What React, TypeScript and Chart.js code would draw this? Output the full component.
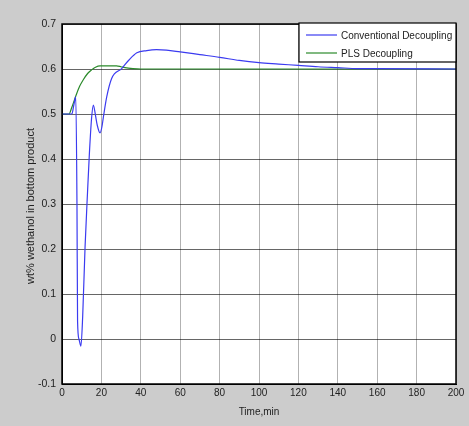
import React, { useEffect, useRef } from "react";
import { Chart, registerables } from "chart.js";

Chart.register(...registerables);

const convTimes = [0, 5, 6, 7, 7.6, 7.9, 8.6, 9.6, 10.5, 11.7, 13, 13.9, 15, 15.9, 17, 17.9, 19.3, 20.2, 21, 22.7, 25.2, 30.3, 34, 38, 43, 48, 53, 60, 70, 80, 90, 100, 110, 120, 130, 140, 150, 160, 200];
const convValues = [0.5, 0.5, 0.52, 0.538, 0.3, 0.04, 0.0, -0.016, 0.05, 0.204, 0.33, 0.412, 0.49, 0.52, 0.497, 0.475, 0.458, 0.47, 0.493, 0.538, 0.579, 0.601, 0.62, 0.636, 0.641, 0.643, 0.642, 0.638, 0.632, 0.626, 0.619, 0.614, 0.611, 0.608, 0.605, 0.603, 0.601, 0.601, 0.6];

const plsTimes = [0, 3.5, 5, 7.1, 9, 10.8, 13, 15, 17, 19.3, 24, 27.7, 30, 32, 36, 40, 200];
const plsValues = [0.5, 0.5, 0.515, 0.541, 0.562, 0.576, 0.59, 0.598, 0.604, 0.607, 0.607, 0.607, 0.605, 0.603, 0.601, 0.6, 0.6];

const seriesNames = ["Conventional Decoupling", "PLS Decoupling"];
const xTitle = "Time,min";
const yTitle = "wt% wethanol in bottom product";

const FONT = "'Liberation Sans', Arial, sans-serif";
const BLUE = "#3b3bf0";
const GREEN = "#2a8a2a";

export default function App() {
  const ref = useRef<HTMLCanvasElement | null>(null);

  useEffect(() => {
    document.body.style.margin = "0";
    const canvas = ref.current!;
    const decor = {
      id: "decor",
      beforeDraw(chart: any) {
        const { ctx, chartArea } = chart;
        ctx.save();
        ctx.fillStyle = "#cccccc";
        ctx.fillRect(0, 0, chart.width, chart.height);
        ctx.fillStyle = "#ffffff";
        ctx.fillRect(chartArea.left, chartArea.top, chartArea.right - chartArea.left, chartArea.bottom - chartArea.top);
        ctx.restore();
      },
      afterDraw(chart: any) {
        const { ctx, chartArea } = chart;
        const { left, right, top, bottom } = chartArea;
        ctx.save();
        ctx.strokeStyle = "#000";
        ctx.lineWidth = 1.5;
        ctx.strokeRect(left, top, right - left, bottom - top);
        // titles
        ctx.fillStyle = "#222";
        ctx.font = `10px ${FONT}`;
        ctx.textAlign = "center";
        ctx.textBaseline = "middle";
        ctx.fillText(xTitle, (left + right) / 2, 412);
        ctx.save();
        ctx.translate(31, (top + bottom) / 2 + 2);
        ctx.rotate(-Math.PI / 2);
        ctx.font = `11px ${FONT}`;
        ctx.fillText(yTitle, 0, 0);
        ctx.restore();
        // legend
        const lw = 157, lh = 39;
        const lx = right - lw, ly = top - 1;
        ctx.fillStyle = "#fff";
        ctx.fillRect(lx, ly, lw, lh);
        ctx.strokeStyle = "#000";
        ctx.lineWidth = 1.2;
        ctx.strokeRect(lx, ly, lw, lh);
        const colors = [BLUE, GREEN];
        ctx.font = `10px ${FONT}`;
        ctx.textAlign = "left";
        seriesNames.forEach((n, i) => {
          const yy = ly + 12 + i * 18;
          ctx.strokeStyle = colors[i];
          ctx.lineWidth = 1.2;
          ctx.beginPath();
          ctx.moveTo(lx + 7, yy);
          ctx.lineTo(lx + 38, yy);
          ctx.stroke();
          ctx.fillStyle = "#222";
          ctx.fillText(n, lx + 42, yy + 1);
        });
        ctx.restore();
      },
    };

    const chart = new Chart(canvas, {
      type: "line",
      data: {
        datasets: [
          {
            label: seriesNames[0],
            data: convTimes.map((t, i) => ({ x: t, y: convValues[i] })),
            borderColor: BLUE,
            borderWidth: 1.2,
            pointRadius: 0,
            cubicInterpolationMode: "monotone",
            fill: false,
          },
          {
            label: seriesNames[1],
            data: plsTimes.map((t, i) => ({ x: t, y: plsValues[i] })),
            borderColor: GREEN,
            borderWidth: 1.2,
            pointRadius: 0,
            cubicInterpolationMode: "monotone",
            fill: false,
          },
        ],
      },
      options: {
        responsive: false,
        animation: false,
        layout: { padding: { top: 24, right: 13, left: 0, bottom: 0 } },
        plugins: { legend: { display: false }, tooltip: { enabled: false } },
        scales: {
          x: {
            type: "linear",
            min: 0,
            max: 200,
            ticks: {
              stepSize: 20,
              color: "#222",
              font: { size: 10, family: FONT },
              padding: 3,
              maxRotation: 0,
            },
            grid: { color: "rgba(0,0,0,0.3)", drawTicks: false },
            border: { display: true, color: "#000" },
            afterFit: (s: any) => { s.height = 42; },
          },
          y: {
            type: "linear",
            min: -0.1,
            max: 0.7,
            ticks: {
              stepSize: 0.1,
              color: "#222",
              font: { size: 10.5, family: FONT },
              padding: 6,
              callback: (v: any) => String(Number(Number(v).toFixed(1))),
            },
            grid: { color: "rgba(0,0,0,0.6)", drawTicks: false },
            border: { display: true, color: "#000" },
            afterFit: (s: any) => { s.width = 62; },
          },
        },
      },
      plugins: [decor],
    } as any);
    return () => chart.destroy();
  }, []);

  return <canvas ref={ref} width={469} height={426} style={{ display: "block" }} />;
}
